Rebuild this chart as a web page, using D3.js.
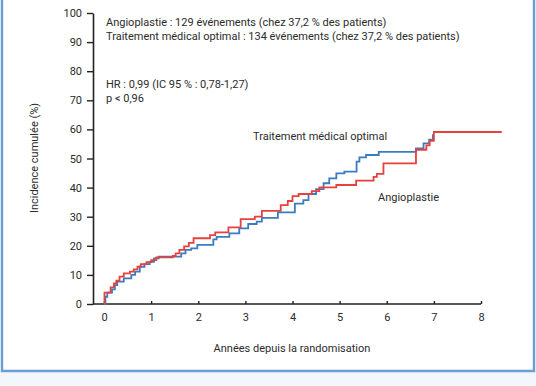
<!DOCTYPE html>
<html>
<head>
<meta charset="utf-8">
<script src="https://cdn.jsdelivr.net/npm/d3@7"></script>
<style>
  html, body { margin: 0; padding: 0; background: #fff; }
  svg { display: block; }
  text { font-family: Roboto, "DejaVu Sans", sans-serif; fill: #2b2b2b; }
</style>
</head>
<body>
<div id="io"></div>
<script>
// Kaplan-Meier like step curves
const angioTimes = [0, 0.01, 0.14, 0.21, 0.26, 0.33, 0.42, 0.55, 0.63, 0.71, 0.78, 0.9, 1.0, 1.11, 1.46, 1.52, 1.6, 1.7, 1.8, 1.9, 2.25, 2.36, 2.64, 2.9, 3.2, 3.35, 3.75, 3.9, 4.0, 4.13, 4.41, 4.57, 4.93, 5.35, 5.72, 5.79, 5.93, 6.62, 6.84, 6.91, 7.0, 8.44];
const angioValues = [0, 3.9, 5.7, 7.1, 8.0, 9.4, 10.5, 11.1, 11.9, 12.8, 13.7, 14.4, 15.1, 16.0, 16.5, 17.4, 18.6, 19.8, 21.0, 22.6, 23.7, 24.6, 26.3, 29.2, 30.0, 32.0, 34.0, 35.4, 37.1, 37.8, 38.8, 40.1, 40.9, 42.4, 43.7, 44.7, 48.3, 53.0, 54.5, 56.1, 59.1, 59.1];

const tmoTimes = [0, 0.03, 0.07, 0.17, 0.23, 0.28, 0.42, 0.58, 0.66, 0.76, 0.86, 0.97, 1.06, 1.16, 1.64, 1.73, 1.85, 1.98, 2.32, 2.39, 2.66, 2.87, 3.06, 3.24, 3.35, 3.69, 4.05, 4.23, 4.34, 4.5, 4.66, 4.78, 4.93, 5.1, 5.36, 5.42, 5.56, 5.83, 6.62, 6.78, 6.9, 6.98, 7.0];
const tmoValues = [0, 2.5, 3.9, 5.0, 6.5, 7.7, 8.8, 10.0, 11.1, 12.8, 13.7, 14.5, 15.7, 16.3, 17.4, 18.6, 19.1, 20.3, 22.2, 23.1, 24.3, 26.0, 27.5, 28.3, 29.6, 31.5, 34.5, 35.7, 37.8, 39.5, 41.5, 43.2, 44.9, 45.5, 48.9, 50.4, 51.2, 52.3, 53.5, 55.2, 56.5, 58.0, 58.0];

const xTicks = [0, 1, 2, 3, 4, 5, 6, 7, 8];
const yTicks = [0, 10, 20, 30, 40, 50, 60, 70, 80, 90, 100];

const infoLines = [
  'Angioplastie : 129 événements (chez 37,2 % des patients)',
  'Traitement médical optimal : 134 événements (chez 37,2 % des patients)'
];
const statLines = ['HR : 0,99 (IC 95 % : 0,78-1,27)', 'p < 0,96'];

const W = 536, H = 386;
const svg = d3.select('#io').append('svg').attr('width', W).attr('height', H);

// frame around the figure
svg.append('rect').attr('x', 0).attr('y', 372).attr('width', W).attr('height', 14).attr('fill', '#f3f7fb');
svg.append('path')
  .attr('d', 'M2,0 V371 H534 V0')
  .attr('fill', 'none').attr('stroke', '#6a9fd3').attr('stroke-width', 2.5);

const xScale = d3.scaleLinear().domain([0, 8]).range([104, 481]);
const yScale = d3.scaleLinear().domain([0, 100]).range([304, 13]);
const axisX = 93;

// y axis
const gy = svg.append('g').attr('transform', `translate(${axisX},0)`)
  .call(d3.axisLeft(yScale).tickValues(yTicks).tickSize(6).tickPadding(5).tickSizeOuter(0));
gy.select('.domain').attr('stroke', '#222').attr('stroke-width', 1.6);
gy.selectAll('.tick line').attr('stroke', '#222').attr('stroke-width', 1.4);
gy.selectAll('.tick text').style('font-size', '11px').attr('fill', '#2b2b2b');

// x axis
const gx = svg.append('g').attr('transform', `translate(0,${yScale(0)})`)
  .call(d3.axisBottom(xScale).tickValues(xTicks).tickSize(-3).tickPadding(9));
gx.select('.domain').remove();
gx.append('line').attr('x1', axisX).attr('x2', xScale(8)).attr('y1', 0).attr('y2', 0)
  .attr('stroke', '#222').attr('stroke-width', 1.6);
gx.selectAll('.tick line').attr('stroke', '#222').attr('stroke-width', 1.4);
gx.selectAll('.tick text').style('font-size', '11px').attr('fill', '#2b2b2b');

// axis titles
svg.append('text').attr('x', 292).attr('y', 352).attr('text-anchor', 'middle')
  .style('font-size', '11px').text('Années depuis la randomisation');
svg.append('text').attr('transform', 'translate(38,158) rotate(-90)').attr('text-anchor', 'middle')
  .style('font-size', '11px').text('Incidence cumulée (%)');

// curves
const line = d3.line().x(d => xScale(d[0])).y(d => yScale(d[1])).curve(d3.curveStepAfter);
const tmo = tmoTimes.map((t, i) => [t, tmoValues[i]]);
const angio = angioTimes.map((t, i) => [t, angioValues[i]]);

svg.append('path').datum(tmo).attr('d', line)
  .attr('fill', 'none').attr('stroke', '#3b7cc0').attr('stroke-width', 1.8);
svg.append('path').datum(angio).attr('d', line)
  .attr('fill', 'none').attr('stroke', '#e5413f').attr('stroke-width', 1.8);

// annotations
svg.selectAll('.info').data(infoLines).enter().append('text')
  .attr('x', 106).attr('y', (d, i) => 26 + i * 14)
  .style('font-size', '11px').text(d => d);
svg.selectAll('.stat').data(statLines).enter().append('text')
  .attr('x', 106).attr('y', (d, i) => 88 + i * 14)
  .style('font-size', '11px').text(d => d);

svg.append('text').attr('x', 253).attr('y', 140).style('font-size', '11px').text('Traitement médical optimal');
svg.append('text').attr('x', 378).attr('y', 201).style('font-size', '11px').text('Angioplastie');
</script>
</body>
</html>
